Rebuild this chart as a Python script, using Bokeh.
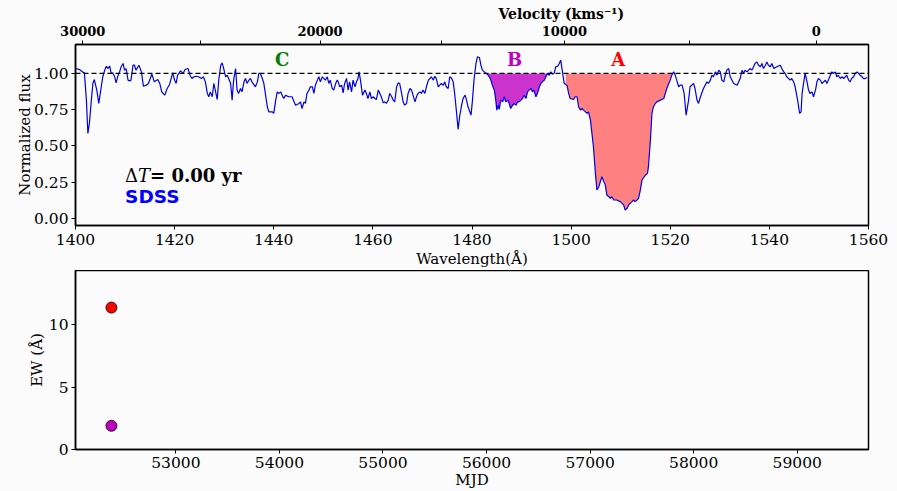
import numpy as np
from bokeh.plotting import figure
from bokeh.layouts import column
from bokeh.models import Range1d, LinearAxis, FixedTicker, PrintfTickFormatter, Span, Label
from bokeh.embed import file_html
from bokeh.resources import INLINE

# ---------------- data ----------------
wavelength = [
    1400.1, 1400.8, 1401.5, 1401.8, 1402.2, 1402.5, 1402.8, 1403.2, 1403.5, 1403.8,
    1404.3, 1404.7, 1405.2, 1405.5, 1405.9, 1406.2, 1406.5, 1406.9, 1407.2, 1407.5,
    1407.9, 1408.2, 1408.5, 1408.9, 1409.2, 1409.6, 1409.9, 1410.2, 1410.6, 1410.9,
    1411.2, 1411.6, 1411.9, 1412.2, 1412.8, 1413.3, 1413.7, 1414.3, 1414.7, 1415.4,
    1415.9, 1416.6, 1417.0, 1417.4, 1418.0, 1418.5, 1419.0, 1419.6, 1420.0, 1420.3,
    1420.6, 1421.2, 1421.7, 1422.1, 1422.7, 1423.1, 1423.5, 1423.9, 1424.3, 1424.8,
    1425.4, 1425.8, 1426.2, 1426.6, 1426.9, 1427.2, 1427.6, 1427.9, 1428.2, 1428.6,
    1428.9, 1429.3, 1429.6, 1429.9, 1430.3, 1430.6, 1430.9, 1431.3, 1431.6, 1431.9,
    1432.3, 1432.6, 1432.9, 1433.3, 1433.6, 1434.0, 1434.3, 1434.6, 1435.0, 1435.3,
    1435.6, 1436.3, 1436.7, 1437.0, 1437.3, 1437.7, 1438.0, 1438.3, 1438.7, 1439.0,
    1439.7, 1440.0, 1440.4, 1440.7, 1441.0, 1441.4, 1441.7, 1442.0, 1442.4, 1443.0,
    1443.7, 1444.1, 1444.4, 1445.1, 1445.4, 1445.7, 1446.1, 1446.4, 1446.7, 1447.1,
    1447.4, 1447.8, 1448.1, 1448.4, 1448.8, 1449.1, 1449.4, 1449.8, 1450.4, 1450.8,
    1451.1, 1451.4, 1451.8, 1452.1, 1452.5, 1452.8, 1453.0, 1453.3, 1453.7, 1454.0,
    1454.3, 1454.7, 1455.0, 1455.3, 1455.7, 1456.0, 1456.4, 1456.7, 1457.0, 1457.2,
    1457.5, 1457.9, 1458.4, 1458.7, 1459.0, 1459.4, 1459.7, 1460.1, 1460.4, 1460.7,
    1461.1, 1461.4, 1461.7, 1462.1, 1462.4, 1462.7, 1463.1, 1463.4, 1463.8, 1464.1,
    1464.4, 1464.8, 1465.1, 1465.4, 1465.8, 1466.1, 1466.4, 1466.8, 1467.1, 1467.5,
    1467.8, 1468.1, 1468.5, 1468.8, 1469.1, 1469.5, 1469.8, 1470.1, 1470.5, 1470.8,
    1471.2, 1471.5, 1471.8, 1472.2, 1472.5, 1472.8, 1473.2, 1473.5, 1473.8, 1474.2,
    1474.5, 1474.8, 1475.2, 1475.5, 1475.9, 1476.2, 1476.5, 1476.9, 1477.2, 1477.5,
    1477.9, 1478.2, 1478.6, 1478.9, 1479.2, 1479.8, 1480.1, 1480.4, 1480.8, 1481.1,
    1481.5, 1481.8, 1482.1, 1482.5, 1482.8, 1483.1, 1483.5, 1483.8, 1484.1, 1484.5,
    1484.8, 1485.0, 1485.3, 1485.5, 1485.8, 1486.2, 1486.5, 1486.8, 1487.2, 1487.5,
    1487.8, 1488.2, 1488.5, 1488.9, 1489.2, 1489.5, 1489.9, 1490.2, 1490.5, 1490.9,
    1491.2, 1491.5, 1491.9, 1492.2, 1492.5, 1492.9, 1493.2, 1493.6, 1493.9, 1494.2,
    1494.6, 1494.9, 1495.2, 1495.6, 1495.9, 1496.2, 1496.6, 1496.9, 1497.3, 1497.6,
    1497.9, 1498.3, 1498.6, 1498.9, 1499.2, 1499.5, 1499.8, 1500.5, 1500.8, 1501.2,
    1501.5, 1501.9, 1502.2, 1502.5, 1502.9, 1503.2, 1503.5, 1503.9, 1504.2, 1504.5,
    1504.9, 1505.2, 1505.6, 1505.9, 1506.2, 1506.6, 1506.9, 1507.2, 1507.6, 1507.9,
    1508.2, 1508.6, 1509.2, 1509.9, 1510.6, 1510.9, 1511.3, 1511.6, 1511.9, 1512.3,
    1512.6, 1512.9, 1513.3, 1513.6, 1513.9, 1514.3, 1515.0, 1515.4, 1515.6, 1516.0,
    1516.3, 1516.6, 1517.0, 1517.3, 1518.0, 1518.7, 1519.0, 1519.3, 1519.7, 1520.0,
    1520.3, 1520.7, 1521.0, 1521.4, 1521.7, 1522.0, 1522.4, 1522.8, 1523.2, 1523.7,
    1524.0, 1524.7, 1525.0, 1525.4, 1525.7, 1526.1, 1526.7, 1527.4, 1527.7, 1528.1,
    1528.4, 1528.7, 1529.1, 1529.4, 1529.8, 1530.1, 1530.4, 1530.8, 1531.1, 1531.4,
    1531.8, 1532.1, 1532.8, 1533.5, 1534.1, 1534.5, 1534.8, 1535.1, 1535.5, 1535.8,
    1536.1, 1536.5, 1536.8, 1537.1, 1537.5, 1537.8, 1538.2, 1538.5, 1538.8, 1539.2,
    1539.5, 1539.8, 1540.2, 1540.5, 1540.9, 1541.5, 1542.2, 1542.5, 1542.9, 1543.2,
    1543.5, 1544.2, 1544.5, 1544.9, 1545.2, 1545.7, 1546.1, 1546.4, 1546.6, 1546.9,
    1547.2, 1547.6, 1547.9, 1548.2, 1548.6, 1548.9, 1549.3, 1549.6, 1549.9, 1550.3,
    1550.6, 1551.3, 1551.6, 1551.9, 1552.3, 1552.6, 1552.9, 1553.3, 1553.6, 1553.9,
    1554.3, 1554.6, 1555.0, 1555.3, 1555.6, 1556.0, 1556.3, 1556.6, 1557.0, 1557.3,
    1557.7, 1558.0, 1558.3, 1558.7, 1559.0, 1559.3, 1559.7,
]
flux = [
    1.034, 1.027, 1.009, 1.004, 0.816, 0.586, 0.655, 0.816, 0.931, 0.958,
    0.885, 0.793, 0.908, 0.977, 1.023, 1.050, 1.034, 1.050, 1.000, 1.004,
    0.977, 0.935, 0.977, 1.011, 1.046, 1.069, 1.023, 1.034, 0.954, 0.949,
    0.954, 1.057, 1.057, 1.023, 1.057, 1.011, 0.912, 0.919, 0.931, 0.995,
    0.942, 0.958, 0.931, 0.873, 0.850, 0.896, 0.926, 1.004, 0.954, 0.931,
    0.988, 1.018, 1.000, 1.027, 1.034, 0.988, 0.965, 0.977, 0.981, 0.977,
    0.965, 0.977, 0.942, 0.862, 0.839, 0.873, 0.839, 0.931, 0.885, 0.820,
    0.954, 1.057, 1.073, 1.034, 0.977, 0.988, 0.965, 0.931, 0.816, 0.954,
    1.034, 0.885, 0.862, 0.896, 0.873, 0.942, 0.965, 0.931, 0.954, 0.965,
    0.942, 0.908, 0.942, 1.000, 1.000, 0.965, 0.931, 0.862, 0.770, 0.735,
    0.735, 0.724, 0.816, 0.873, 0.862, 0.873, 0.850, 0.827, 0.850, 0.839,
    0.839, 0.804, 0.781, 0.793, 0.804, 0.758, 0.804, 0.793, 0.862, 0.885,
    0.908, 0.908, 0.862, 0.919, 0.954, 0.977, 0.942, 0.977, 0.954, 0.977,
    0.931, 0.954, 0.896, 0.885, 0.931, 0.955, 0.942, 0.908, 0.919, 0.866,
    0.931, 0.965, 0.885, 0.942, 0.873, 0.954, 0.908, 0.942, 0.965, 1.011,
    0.954, 0.850, 0.885, 0.862, 0.827, 0.873, 0.827, 0.839, 0.827, 0.820,
    0.885, 0.862, 0.839, 0.797, 0.804, 0.793, 0.816, 0.862, 0.839, 0.816,
    0.804, 0.908, 0.935, 0.931, 0.862, 0.804, 0.781, 0.793, 0.862, 0.896,
    0.885, 0.850, 0.804, 0.839, 0.862, 0.873, 0.862, 0.885, 0.862, 0.908,
    0.954, 0.965, 0.977, 0.954, 0.981, 0.965, 0.908, 0.919, 0.931, 0.919,
    0.942, 0.908, 0.896, 0.977, 0.965, 0.942, 0.862, 0.724, 0.614, 0.701,
    0.781, 0.827, 0.850, 0.816, 0.770, 0.712, 0.816, 0.954, 1.069, 1.115,
    1.110, 1.057, 1.023, 1.011, 1.000, 0.995, 0.977, 0.954, 0.919, 0.885,
    0.816, 0.747, 0.781, 0.752, 0.816, 0.804, 0.839, 0.804, 0.816, 0.793,
    0.758, 0.781, 0.793, 0.781, 0.804, 0.804, 0.816, 0.827, 0.850, 0.827,
    0.873, 0.885, 0.896, 0.873, 0.885, 0.839, 0.862, 0.908, 0.931, 0.942,
    0.954, 0.977, 1.000, 0.988, 1.011, 0.995, 1.004, 1.046, 1.050, 1.069,
    1.092, 1.000, 0.931, 0.925, 0.915, 0.862, 0.827, 0.820, 0.839, 0.839,
    0.770, 0.747, 0.758, 0.747, 0.735, 0.724, 0.735, 0.678, 0.586, 0.494,
    0.310, 0.195, 0.218, 0.253, 0.287, 0.253, 0.230, 0.161, 0.149, 0.138,
    0.149, 0.126, 0.126, 0.115, 0.092, 0.057, 0.069, 0.092, 0.103, 0.115,
    0.126, 0.115, 0.126, 0.138, 0.184, 0.264, 0.299, 0.310, 0.356, 0.540,
    0.724, 0.770, 0.793, 0.804, 0.816, 0.827, 0.862, 0.896, 0.931, 0.954,
    0.988, 1.011, 0.988, 0.942, 0.908, 0.919, 0.919, 0.862, 0.712, 0.816,
    0.908, 0.931, 0.896, 0.816, 0.793, 0.839, 0.896, 0.942, 0.931, 0.954,
    0.988, 0.977, 1.011, 0.988, 1.023, 1.011, 0.954, 0.942, 0.988, 1.023,
    1.034, 0.977, 0.931, 0.919, 0.965, 1.023, 1.000, 1.023, 1.011, 1.023,
    1.034, 1.023, 1.046, 1.069, 1.080, 1.057, 1.046, 1.069, 1.034, 1.057,
    1.080, 1.057, 1.046, 1.069, 1.034, 1.046, 1.057, 1.034, 1.011, 1.000,
    0.977, 0.954, 0.965, 0.942, 0.908, 0.816, 0.724, 0.735, 0.862, 0.931,
    1.000, 0.942, 0.885, 0.862, 0.873, 0.839, 0.885, 0.942, 0.965, 0.954,
    0.931, 0.954, 0.931, 0.954, 0.988, 1.011, 1.000, 1.011, 0.977, 0.988,
    0.965, 0.977, 0.965, 0.977, 0.988, 0.954, 0.942, 0.965, 0.977, 1.000,
    1.011, 1.000, 0.988, 0.977, 0.965, 0.965, 0.972,
]

trough_A = (1498.9, 1520.7)
trough_B = (1482.8, 1495.2)

velocity_major = [30000, 20000, 10000, 0]
velocity_minor = [25000, 15000, 5000]
civ_rest = 1549.48          # C IV rest wavelength (Angstrom)
c_kms = 299792.458

wave_ticks = [1400, 1420, 1440, 1460, 1480, 1500, 1520, 1540, 1560]
flux_ticks = [0.0, 0.25, 0.5, 0.75, 1.0]

mjd = [52378, 52378]
ew = [11.37, 1.90]
ew_colors = ["#ff0000", "#bf00bf"]
mjd_ticks = [53000, 54000, 55000, 56000, 57000, 58000, 59000]
ew_ticks = [0, 5, 10]

BG = "#fbfbfb"
SERIF = "DejaVu Serif"
TICK_FS = "15.5px"
LABEL_FS = "15px"
TXT_RAISE = 7   # screen-pixel lift of in-plot texts


def vel_to_wave(v):
    b = v / c_kms
    return round(civ_rest * np.sqrt((1 - b) / (1 + b)), 4)


def style_axis(ax, fs=TICK_FS):
    ax.major_label_text_font = SERIF
    ax.major_label_text_font_size = fs
    ax.major_label_text_color = "black"
    ax.axis_label_text_font = SERIF
    ax.axis_label_text_font_size = LABEL_FS
    ax.axis_label_text_font_style = "normal"
    ax.axis_label_text_color = "black"
    ax.axis_line_color = "black"
    ax.axis_line_width = 1.5
    ax.major_tick_line_color = "black"
    ax.major_tick_out = 4
    ax.major_tick_in = 0
    ax.minor_tick_line_color = None


wave = np.array(wavelength)
fl = np.array(flux)

# ---------------- top panel ----------------
p1 = figure(width=897, height=270, x_range=Range1d(1400, 1560), y_range=Range1d(-0.05, 1.2),
            output_backend="svg", toolbar_location=None,
            min_border_left=75, min_border_right=29, min_border_top=44, min_border_bottom=45)
p1.background_fill_color = BG
p1.border_fill_color = BG
p1.outline_line_color = "black"
p1.outline_line_width = 1.5
p1.grid.visible = False

for (lo, hi), col in ((trough_A, "#ff8080"), (trough_B, "#cc33cc")):
    m = (wave >= lo) & (wave <= hi)
    p1.varea(x=wave[m], y1=np.minimum(fl[m], 1.0), y2=np.ones(m.sum()), fill_color=col)

p1.add_layout(Span(location=1.0, dimension="width", line_color="black",
                   line_dash="5 3", line_width=1.3))
p1.line(wave, fl, line_color="#0000e6", line_width=1.2)

xa = p1.xaxis[0]
xa.ticker = FixedTicker(ticks=wave_ticks)
xa.axis_label = "Wavelength(Å)"
xa.major_label_standoff = 4
xa.axis_label_standoff = 2
style_axis(xa)

ya = p1.yaxis[0]
ya.ticker = FixedTicker(ticks=flux_ticks)
ya.formatter = PrintfTickFormatter(format="%.2f")
ya.axis_label = "Normalized flux"
ya.major_label_standoff = 3
ya.axis_label_standoff = -3
style_axis(ya)

major_w = [vel_to_wave(v) for v in velocity_major]
minor_w = [vel_to_wave(v) for v in velocity_minor]
top = LinearAxis(ticker=FixedTicker(ticks=major_w, minor_ticks=minor_w))
top.major_label_overrides = {w: str(v) for w, v in zip(major_w, velocity_major)}
style_axis(top, fs="13px")
top.major_label_text_font_style = "bold"
top.minor_tick_line_color = "black"
top.minor_tick_out = 4
top.minor_tick_in = 0
top.major_label_standoff = 5
p1.add_layout(top, "above")

# axis title of the velocity scale (placed above the 10000 km/s tick, as in the original)
p1.title.text = "Velocity (kms⁻¹)"
p1.title.align = "left"
p1.title.offset = 423
p1.title.text_font = SERIF
p1.title.text_font_style = "bold"
p1.title.text_font_size = "14px"
p1.title.text_color = "black"
p1.title.standoff = 1

label_y = 1.05
for txt, xpos, col in (("C", 1441.7, "#008000"), ("B", 1488.6, "#bf00bf"), ("A", 1509.5, "#ff0000")):
    p1.add_layout(Label(x=xpos, y=label_y, y_offset=TXT_RAISE, text=txt, text_align="center",
                        text_baseline="alphabetic", text_font=SERIF, text_font_style="bold",
                        text_font_size="18px", text_color=col))

p1.add_layout(Label(x=1410, y=0.25, y_offset=TXT_RAISE, text="Δ", text_baseline="alphabetic",
                    text_font=SERIF, text_font_size="18px", text_color="black"))
p1.add_layout(Label(x=1410, y=0.25, x_offset=13, y_offset=TXT_RAISE, text="T", text_baseline="alphabetic",
                    text_font=SERIF, text_font_style="italic", text_font_size="18px", text_color="black"))
p1.add_layout(Label(x=1410, y=0.25, x_offset=25, y_offset=TXT_RAISE, text="= 0.00 yr",
                    text_baseline="alphabetic", text_font=SERIF, text_font_style="bold",
                    text_font_size="18px", text_color="black"))
p1.add_layout(Label(x=1410, y=0.10, y_offset=TXT_RAISE, text="SDSS", text_baseline="alphabetic",
                    text_font="DejaVu Sans", text_font_style="bold", text_font_size="18.5px",
                    text_color="#0000ff"))

# ---------------- bottom panel ----------------
p2 = figure(width=897, height=221, x_range=Range1d(52031, 59688), y_range=Range1d(0, 14.34),
            output_backend="svg", toolbar_location=None,
            min_border_left=75, min_border_right=28, min_border_top=0, min_border_bottom=39)
p2.background_fill_color = BG
p2.border_fill_color = BG
p2.outline_line_color = "black"
p2.outline_line_width = 1.5
p2.grid.visible = False

p2.scatter(mjd, ew, size=11, fill_color=ew_colors, line_color="black", line_width=0.8)

xb = p2.xaxis[0]
xb.ticker = FixedTicker(ticks=mjd_ticks)
xb.formatter = PrintfTickFormatter(format="%d")
xb.axis_label = "MJD"
xb.major_label_standoff = 3
xb.axis_label_standoff = 0
style_axis(xb)

yb = p2.yaxis[0]
yb.ticker = FixedTicker(ticks=ew_ticks)
yb.formatter = PrintfTickFormatter(format="%d")
yb.axis_label = "EW (Å)"
yb.major_label_standoff = 3
yb.axis_label_standoff = 0
style_axis(yb)

layout = column(p1, p2, spacing=0)
layout.styles = {"background-color": BG}

open("out.html", "w").write(file_html(layout, INLINE))
